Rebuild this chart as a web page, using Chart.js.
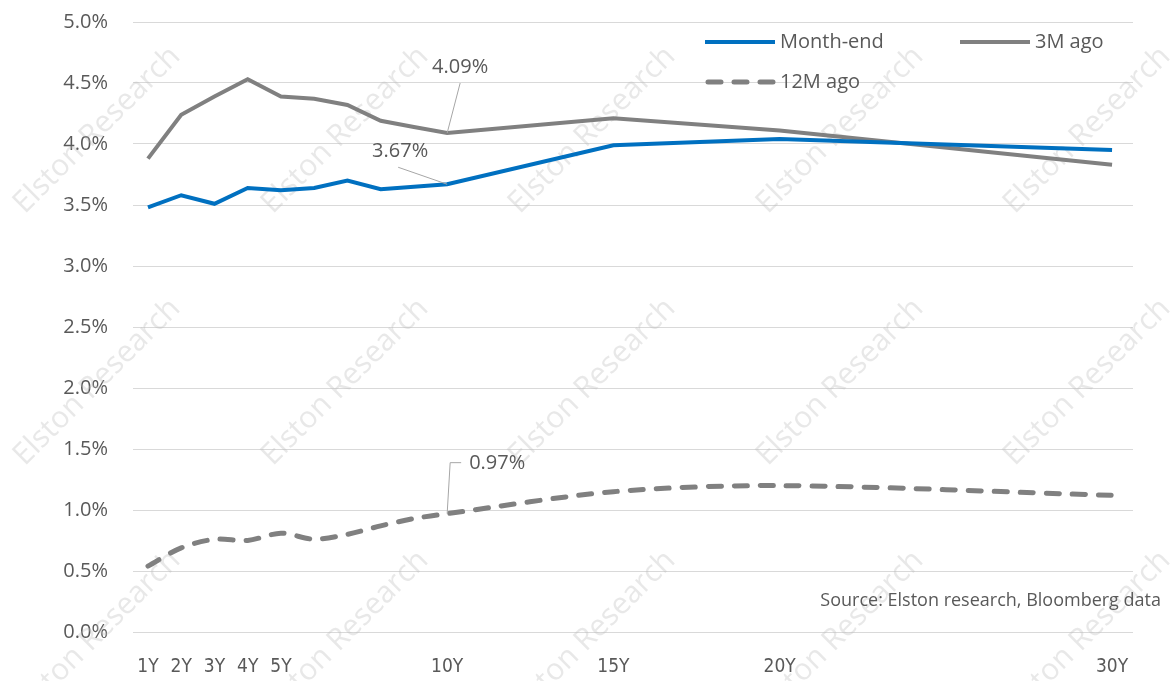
<!DOCTYPE html>
<html>
<head>
<meta charset="utf-8">
<script src="https://cdn.jsdelivr.net/npm/chart.js@4.4.1/dist/chart.umd.min.js"></script>
<style>
  html, body { margin: 0; padding: 0; background: #fff; }
  #wrap { position: relative; width: 1174px; height: 681px; }
</style>
</head>
<body>
<div id="wrap"><canvas id="curveChart"></canvas></div>
<script>
// Yield curve data (tenor in years, yield in %)
const tenors = [1, 2, 3, 4, 5, 6, 7, 8, 9, 10, 15, 20, 30];
const monthEnd = [3.48, 3.58, 3.51, 3.64, 3.62, 3.64, 3.70, 3.63, 3.65, 3.67, 3.99, 4.04, 3.95];
const threeMAgo = [3.88, 4.24, 4.39, 4.53, 4.39, 4.37, 4.32, 4.19, 4.14, 4.09, 4.21, 4.11, 3.83];
const twelveMAgo = [0.54, 0.69, 0.76, 0.75, 0.81, 0.76, 0.80, 0.87, 0.93, 0.97, 1.15, 1.20, 1.12];
const tickTenors = [1, 2, 3, 4, 5, 10, 15, 20, 30];
const seriesNames = ['Month-end', '3M ago', '12M ago'];
const sourceNote = 'Source: Elston research, Bloomberg data';
const watermark = 'Elston Research';

const BLUE = '#0070c0';
const GREY = '#808080';
const TEXT = '#595959';
const FONT = '"Open Sans", sans-serif';

function toPoints(values) {
  return tenors.map((t, i) => ({ x: t, y: values[i] }));
}

// faint diagonal watermark tiles
const watermarkPlugin = {
  id: 'watermark',
  beforeDatasetsDraw(chart) {
    const ctx = chart.ctx;
    const cols = [97, 345, 592, 840, 1087];
    const rows = [130, 382, 634];
    ctx.save();
    ctx.font = '30px ' + FONT;
    ctx.fillStyle = 'rgba(190, 190, 190, 0.35)';
    ctx.textAlign = 'center';
    ctx.textBaseline = 'middle';
    rows.forEach(y => {
      cols.forEach(x => {
        ctx.save();
        ctx.translate(x, y);
        ctx.rotate(-Math.PI / 4);
        ctx.fillText(watermark, 0, 0);
        ctx.restore();
      });
    });
    ctx.restore();
  }
};

// legend inside the plot, data labels with leader lines, source note
const overlayPlugin = {
  id: 'overlay',
  afterDatasetsDraw(chart) {
    const ctx = chart.ctx;
    const area = chart.chartArea;
    ctx.save();

    // legend
    const items = [
      { x: area.left + 572, y: area.top + 20, color: BLUE, dash: [] },
      { x: area.left + 827, y: area.top + 20, color: GREY, dash: [] },
      { x: area.left + 572, y: area.top + 60, color: GREY, dash: [13, 13] }
    ];
    ctx.font = '20px ' + FONT;
    ctx.textBaseline = 'middle';
    ctx.textAlign = 'left';
    items.forEach((it, i) => {
      ctx.beginPath();
      ctx.strokeStyle = it.color;
      ctx.lineWidth = i === 2 ? 5 : 4;
      ctx.lineCap = i === 2 ? 'round' : 'butt';
      ctx.setLineDash(it.dash);
      ctx.moveTo(it.x + (i === 2 ? 3 : 0), it.y);
      ctx.lineTo(it.x + 70, it.y);
      ctx.stroke();
      ctx.setLineDash([]);
      ctx.fillStyle = TEXT;
      ctx.fillText(seriesNames[i], it.x + 75, it.y);
    });

    // 10Y labels
    const idx = tenors.indexOf(10);
    ctx.strokeStyle = '#a6a6a6';
    ctx.lineWidth = 1;
    ctx.lineCap = 'butt';
    ctx.fillStyle = TEXT;

    const p3 = chart.getDatasetMeta(1).data[idx];
    ctx.beginPath();
    ctx.moveTo(p3.x, p3.y);
    ctx.lineTo(p3.x + 13, p3.y - 50);
    ctx.stroke();
    ctx.textAlign = 'center';
    ctx.fillText(threeMAgo[idx].toFixed(2) + '%', p3.x + 13, p3.y - 66);

    const p0 = chart.getDatasetMeta(0).data[idx];
    ctx.beginPath();
    ctx.moveTo(p0.x, p0.y);
    ctx.lineTo(p0.x - 49, p0.y - 17);
    ctx.stroke();
    ctx.fillText(monthEnd[idx].toFixed(2) + '%', p0.x - 47, p0.y - 33);

    const p12 = chart.getDatasetMeta(2).data[idx];
    ctx.beginPath();
    ctx.moveTo(p12.x, p12.y);
    ctx.lineTo(p12.x + 3, p12.y - 51);
    ctx.lineTo(p12.x + 14, p12.y - 51);
    ctx.stroke();
    ctx.textAlign = 'left';
    ctx.fillText(twelveMAgo[idx].toFixed(2) + '%', p12.x + 22, p12.y - 50);

    // source
    ctx.font = '18px ' + FONT;
    ctx.textAlign = 'right';
    ctx.fillText(sourceNote, area.right + 28, area.bottom - 31);

    ctx.restore();
  }
};

Chart.defaults.font.family = FONT;
Chart.defaults.color = TEXT;

new Chart(document.getElementById('curveChart'), {
  type: 'line',
  data: {
    datasets: [
      {
        label: seriesNames[0],
        data: toPoints(monthEnd),
        borderColor: BLUE,
        borderWidth: 4,
        pointRadius: 0,
        tension: 0,
        order: 1
      },
      {
        label: seriesNames[1],
        data: toPoints(threeMAgo),
        borderColor: GREY,
        borderWidth: 4,
        pointRadius: 0,
        tension: 0,
        order: 2
      },
      {
        label: seriesNames[2],
        data: toPoints(twelveMAgo),
        borderColor: GREY,
        borderWidth: 5,
        borderDash: [13, 13],
        borderCapStyle: 'round',
        pointRadius: 0,
        tension: 0.3,
        order: 3
      }
    ]
  },
  options: {
    responsive: true,
    maintainAspectRatio: false,
    animation: false,
    layout: { padding: { top: 22, right: 41, left: 0, bottom: 0 } },
    plugins: {
      legend: { display: false },
      tooltip: { enabled: false }
    },
    scales: {
      x: {
        type: 'linear',
        min: 0.55,
        max: 30.63,
        grid: { display: false, drawTicks: false },
        border: { display: false },
        afterBuildTicks: scale => {
          scale.ticks = tickTenors.map(v => ({ value: v }));
        },
        afterFit: scale => {
          scale.height = 49;
          scale.paddingLeft = 0;
          scale.paddingRight = 0;
        },
        ticks: {
          autoSkip: false,
          maxRotation: 0,
          padding: 24,
          color: TEXT,
          font: { family: '"Liberation Sans Narrow", "DejaVu Sans Condensed", sans-serif', size: 19 },
          callback: v => v + 'Y'
        }
      },
      y: {
        min: 0,
        max: 5,
        grid: { color: '#d9d9d9', lineWidth: 1, drawTicks: false },
        border: { display: false },
        afterFit: scale => {
          scale.width = 133;
          scale.paddingTop = 0;
          scale.paddingBottom = 0;
        },
        ticks: {
          stepSize: 0.5,
          padding: 25,
          color: TEXT,
          font: { size: 20 },
          callback: v => v.toFixed(1) + '%'
        }
      }
    }
  },
  plugins: [watermarkPlugin, overlayPlugin]
});
</script>
</body>
</html>
